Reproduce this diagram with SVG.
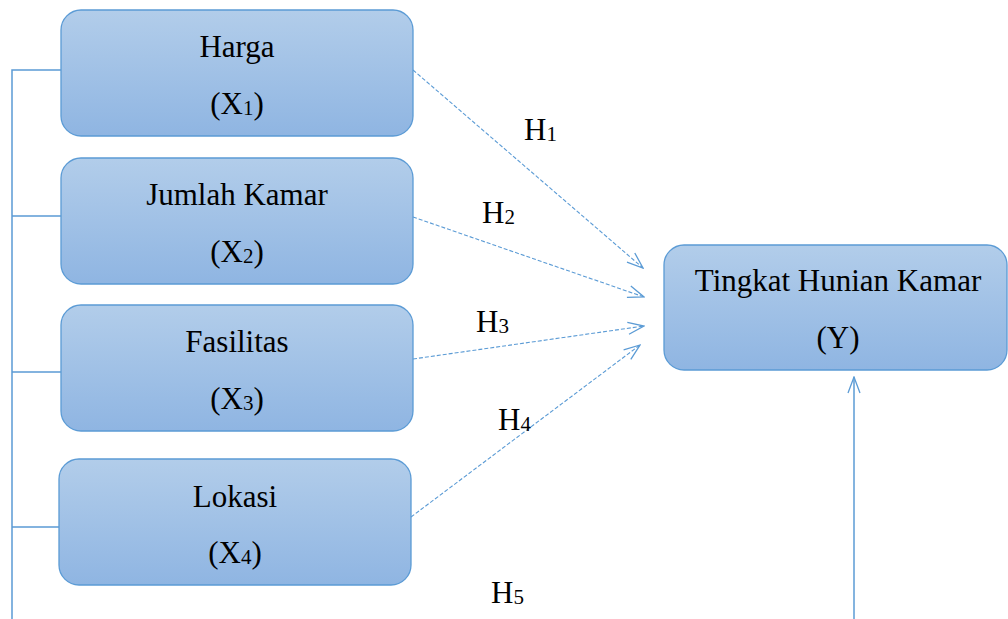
<svg xmlns="http://www.w3.org/2000/svg" width="1008" height="619" viewBox="0 0 1008 619">
<defs>
<linearGradient id="g" x1="0" y1="0" x2="0" y2="1">
<stop offset="0" stop-color="#b2cdea"/>
<stop offset="1" stop-color="#8fb5e2"/>
</linearGradient>
<marker id="ah" viewBox="0 0 18 14" markerWidth="18" markerHeight="14" refX="17" refY="7" orient="auto" markerUnits="userSpaceOnUse">
<path d="M1,1 L17,7 L1,13" fill="none" stroke="#5b9bd5" stroke-width="1.3" stroke-dasharray="none"/>
</marker>
<style>
.box{fill:url(#g);stroke:#5b9bd5;stroke-width:1.3}
.t{font-size:31px;fill:#000;text-anchor:middle}
.h{font-size:31px;fill:#000}
.sub{font-size:21px}
.dash{fill:none;stroke:#5b9bd5;stroke-width:1.1;stroke-dasharray:4 2;marker-end:url(#ah)}
.solid{fill:none;stroke:#5b9bd5;stroke-width:1.5}
</style>
</defs>
<g id="connectors" font-family="'Liberation Serif', 'DejaVu Serif', serif">
<path class="solid" d="M12,619 L12,70 L61,70 M12,216 L61,216 M12,372 L61,372 M12,527 L59,527"/>
<line class="dash" x1="413" y1="70" x2="643" y2="268"/>
<line class="dash" x1="413" y1="217" x2="644" y2="297"/>
<line class="dash" x1="413" y1="359" x2="644" y2="326"/>
<line class="dash" x1="411" y1="517" x2="640" y2="345"/>
<line class="solid" x1="854" y1="619" x2="854" y2="377" marker-end="url(#ah)"/>
<text class="h" x="524" y="140">H<tspan class="sub" dy="1">1</tspan></text>
<text class="h" x="482" y="223">H<tspan class="sub" dy="1">2</tspan></text>
<text class="h" x="476" y="332">H<tspan class="sub" dy="1">3</tspan></text>
<text class="h" x="498" y="430">H<tspan class="sub" dy="1">4</tspan></text>
<text class="h" x="491" y="603">H<tspan class="sub" dy="1">5</tspan></text>
</g>
<g id="x1" font-family="'Liberation Serif', 'DejaVu Serif', serif">
<rect class="box" x="61" y="10" width="352" height="126" rx="20"/>
<text class="t" x="237" y="57">Harga</text>
<text class="t" x="237" y="114">(X<tspan class="sub" dy="1">1</tspan><tspan dy="-1">)</tspan></text>
</g>
<g id="x2" font-family="'Liberation Serif', 'DejaVu Serif', serif">
<rect class="box" x="61" y="158" width="352" height="126" rx="20"/>
<text class="t" x="237" y="205">Jumlah Kamar</text>
<text class="t" x="237" y="262">(X<tspan class="sub" dy="1">2</tspan><tspan dy="-1">)</tspan></text>
</g>
<g id="x3" font-family="'Liberation Serif', 'DejaVu Serif', serif">
<rect class="box" x="61" y="305" width="352" height="126" rx="20"/>
<text class="t" x="237" y="352">Fasilitas</text>
<text class="t" x="237" y="409">(X<tspan class="sub" dy="1">3</tspan><tspan dy="-1">)</tspan></text>
</g>
<g id="x4" font-family="'Liberation Serif', 'DejaVu Serif', serif">
<rect class="box" x="59" y="459" width="352" height="126" rx="20"/>
<text class="t" x="235" y="507">Lokasi</text>
<text class="t" x="235" y="563">(X<tspan class="sub" dy="1">4</tspan><tspan dy="-1">)</tspan></text>
</g>
<g id="y" font-family="'Liberation Serif', 'DejaVu Serif', serif">
<rect class="box" x="664" y="245" width="343" height="125" rx="20"/>
<text class="t" x="838" y="291">Tingkat Hunian Kamar</text>
<text class="t" x="838" y="348">(Y)</text>
</g>
</svg>
